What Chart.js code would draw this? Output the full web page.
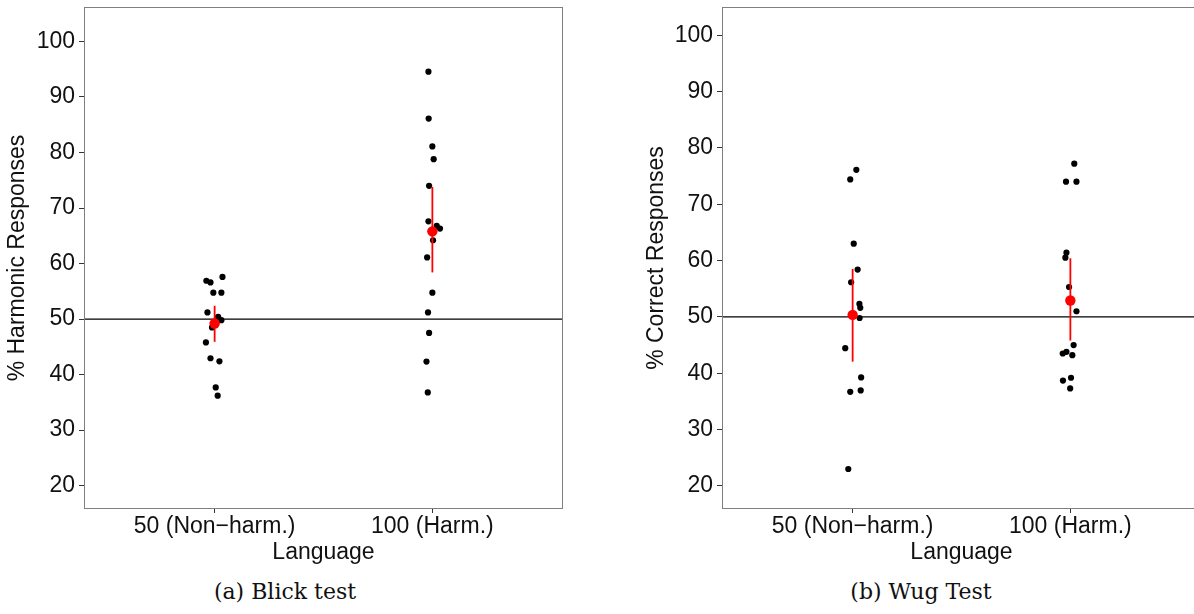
<!DOCTYPE html>
<html>
<head>
<meta charset="utf-8">
<title>Blick test / Wug test</title>
<script src="https://cdn.jsdelivr.net/npm/chart.js@4.4.1/dist/chart.umd.min.js"></script>
<style>
  body { margin: 0; background: #fff; width: 1194px; height: 614px; overflow: hidden; position: relative; }
  .panel { position: absolute; top: 0; height: 566px; }
  .caption { position: absolute; top: 581px; font-family: "DejaVu Serif", serif; font-size: 22px; line-height: 22px;
             white-space: nowrap; transform: translateX(-50%); color: #111; }
</style>
</head>
<body>
<div class="panel" style="left:0;width:564px"><canvas id="blickChart"></canvas></div>
<div class="panel" style="left:640px;width:561px"><canvas id="wugChart"></canvas></div>
<div class="caption" style="left:285px">(a) Blick test</div>
<div class="caption" style="left:921px">(b) Wug Test</div>
<script>
// categories on the x axis and the y tick values
const categories = ['50 (Non\u2212harm.)', '100 (Harm.)'];
const yTicks = [20, 30, 40, 50, 60, 70, 80, 90, 100];
const chanceLevel = 50;

// (a) Blick test - per participant % harmonic responses, with the horizontal jitter
const blickNonHarm = [56.9, 56.6, 57.6, 54.75, 54.75, 51.2, 50.4, 49.8, 48.5, 45.8, 42.95, 42.4, 37.7, 36.2];
const blickNonHarmJitter = [-0.038, -0.019, 0.036, -0.006, 0.031, -0.033, 0.016, 0.031, -0.012, -0.040, -0.019, 0.022, 0.005, 0.014];
const blickHarm = [94.55, 86.1, 81.1, 78.8, 74.0, 67.6, 66.8, 66.3, 64.2, 61.1, 54.75, 51.2, 47.5, 42.35, 36.8];
const blickHarmJitter = [-0.018, -0.017, 0.0, 0.006, -0.015, -0.018, 0.02, 0.035, 0.003, -0.024, 0.0, -0.02, -0.015, -0.027, -0.021];
const blickMean = [49.2, 65.8];
const blickLow = [45.9, 58.4];
const blickHigh = [52.4, 73.8];

// (b) Wug test - per participant % correct responses
const wugNonHarm = [76.1, 74.4, 63.0, 58.4, 56.15, 52.3, 51.6, 49.8, 44.45, 39.25, 36.95, 36.7, 23.0];
const wugNonHarmJitter = [0.017, -0.011, 0.005, 0.023, -0.007, 0.031, 0.035, 0.032, -0.034, 0.039, 0.037, -0.011, -0.020];
const wugHarm = [77.2, 74.0, 74.0, 61.4, 60.5, 55.3, 51.0, 45.0, 43.8, 43.5, 43.2, 39.2, 38.7, 37.3];
const wugHarmJitter = [0.018, -0.020, 0.028, -0.018, -0.023, -0.006, 0.028, 0.015, -0.018, -0.035, 0.009, 0.003, -0.034, -0.001];
const wugMean = [50.35, 52.9];
const wugLow = [42.05, 45.8];
const wugHigh = [58.5, 60.4];

const tickFont = { family: 'Liberation Sans, Arial, sans-serif', size: 23 };

// grey box around the plot area (ggplot panel border)
const frame = {
    id: 'frame',
    afterDatasetsDraw(chart) {
        const a = chart.chartArea;
        const ctx = chart.ctx;
        ctx.save();
        ctx.strokeStyle = '#7f7f7f';
        ctx.lineWidth = 1;
        ctx.strokeRect(Math.round(a.left) + 0.5, Math.round(a.top) + 0.5,
                       Math.round(a.right - a.left) - 1, Math.round(a.bottom - a.top) - 1);
        ctx.restore();
    }
};

function jittered(values, offsets, cat) {
    return values.map((v, i) => ({ x: cat + offsets[i], y: v }));
}

function makePanel(canvasId, p) {
    const datasets = [
        // group means
        { data: p.mean.map((m, i) => ({ x: i + 1, y: m })), pointRadius: 5.2,
          backgroundColor: '#ff0000', borderWidth: 0, order: 0 },
        // error bars
        { data: [{ x: 1, y: p.low[0] }, { x: 1, y: p.high[0] }], showLine: true, pointRadius: 0,
          borderColor: '#ff0000', borderWidth: 1.8, order: 1 },
        { data: [{ x: 2, y: p.low[1] }, { x: 2, y: p.high[1] }], showLine: true, pointRadius: 0,
          borderColor: '#ff0000', borderWidth: 1.8, order: 1 },
        // participants
        { data: jittered(p.nonHarm, p.nonHarmJitter, 1), pointRadius: 3.1,
          backgroundColor: '#000', borderWidth: 0, order: 2 },
        { data: jittered(p.harm, p.harmJitter, 2), pointRadius: 3.1,
          backgroundColor: '#000', borderWidth: 0, order: 2 },
        // chance line
        { data: [{ x: 0.4, y: chanceLevel }, { x: 2.6, y: chanceLevel }], showLine: true, pointRadius: 0,
          borderColor: '#000', borderWidth: 1.3, order: 3 }
    ];

    return new Chart(document.getElementById(canvasId), {
        type: 'scatter',
        data: { datasets: datasets },
        options: {
            responsive: true,
            maintainAspectRatio: false,
            animation: false,
            events: [],
            layout: { autoPadding: false, padding: { top: p.top, right: p.right, left: 0, bottom: 0 } },
            plugins: { legend: { display: false }, tooltip: { enabled: false } },
            scales: {
                x: {
                    type: 'linear', min: 0.4, max: 2.6,
                    afterBuildTicks: s => { s.ticks = [{ value: 1 }, { value: 2 }]; },
                    afterFit: s => { s.height = 57; s.paddingLeft = 0; s.paddingRight = 0; },
                    ticks: { font: tickFont, color: '#111', padding: 0, maxRotation: 0, autoSkip: false,
                             callback: v => categories[v - 1] },
                    grid: { drawOnChartArea: false, tickLength: 4, tickColor: '#333', tickWidth: 1 },
                    border: { display: false },
                    title: { display: true, text: 'Language', font: tickFont, color: '#111', padding: 0 }
                },
                y: {
                    min: p.yMin, max: p.yMax,
                    afterBuildTicks: s => { s.ticks = yTicks.map(v => ({ value: v })); },
                    afterFit: s => { s.width = p.yWidth; s.paddingTop = 0; s.paddingBottom = 0; },
                    ticks: { font: tickFont, color: '#111', padding: 4, callback: v => String(v) },
                    grid: { drawOnChartArea: false, tickLength: 5, tickColor: '#333', tickWidth: 1 },
                    border: { display: false },
                    title: { display: true, text: p.yTitle, font: tickFont, color: '#111',
                             padding: { top: p.titlePad, bottom: 0 } }
                }
            }
        },
        plugins: [frame]
    });
}

makePanel('blickChart', {
    nonHarm: blickNonHarm, nonHarmJitter: blickNonHarmJitter,
    harm: blickHarm, harmJitter: blickHarmJitter,
    mean: blickMean, low: blickLow, high: blickHigh,
    yTitle: '% Harmonic Responses', yMin: 15.8, yMax: 106.2,
    yWidth: 84, titlePad: 4, top: 7, right: 1
});

makePanel('wugChart', {
    nonHarm: wugNonHarm, nonHarmJitter: wugNonHarmJitter,
    harm: wugHarm, harmJitter: wugHarmJitter,
    mean: wugMean, low: wugLow, high: wugHigh,
    yTitle: '% Correct Responses', yMin: 15.9, yMax: 105,
    yWidth: 82, titlePad: 3, top: 7, right: 0
});
</script>
</body>
</html>
